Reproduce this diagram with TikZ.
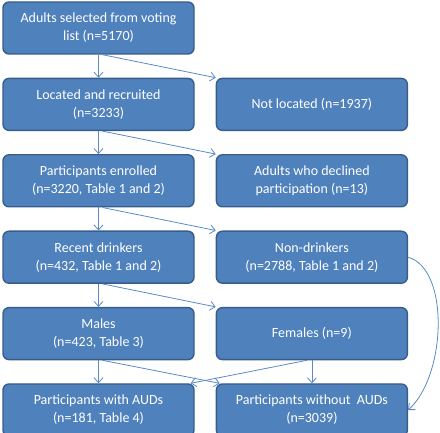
\documentclass[tikz,border=0pt]{standalone}
\usepackage{fontspec}
\setmainfont{Carlito}
\usepackage{xcolor}
\usepackage{tikz}
\usetikzlibrary{positioning,arrows.meta}
\definecolor{boxfill}{HTML}{4F81BD}
\definecolor{boxline}{HTML}{385D8A}
\definecolor{arrowblue}{HTML}{5B8AC6}
\newcommand{\boxfont}{\fontsize{14pt}{18pt}\selectfont}

\begin{document}
\begin{tikzpicture}[
        stagebox/.style={draw=boxline, fill=boxfill, line width=1.4pt, rounded corners=6pt,
            text=white, align=center, minimum width=191pt, minimum height=52pt,
            inner sep=2pt, font=\boxfont},
        flow/.style={draw=arrowblue, line width=0.8pt, -{Straight Barb[length=5pt,width=9pt]}},
        node distance=23pt and 21pt
    ]
                \useasboundingbox (0,0) rectangle (440pt,-433pt);
                \node (selected) [stagebox] at (98.5pt,-28pt) {Adults selected from voting\\list (n=5170)};
                \node (located) [stagebox, below=of selected] {Located and recruited\\(n=3233)};
                \node (notlocated) [stagebox, right=of located] {Not located (n=1937)};
                \node (enrolled) [stagebox, below=of located] {Participants enrolled\\(n=3220, Table 1 and 2)};
                \node (declined) [stagebox, right=of enrolled] {Adults who declined\\participation (n=13)};
                \node (drinkers) [stagebox, below=of enrolled] {Recent drinkers\\(n=432, Table 1 and 2)};
                \node (nondrinkers) [stagebox, right=of drinkers] {Non-drinkers\\(n=2788, Table 1 and 2)};
                \node (males) [stagebox, below=of drinkers] {Males\\(n=423, Table 3)};
                \node (females) [stagebox, right=of males] {Females (n=9)};
                \node (withaud) [stagebox, below=of males] {Participants with AUDs\\(n=181, Table 4)};
                \node (withoutaud) [stagebox, right=of withaud] {Participants without~ AUDs\\(n=3039)};
                \draw[flow] (selected.south) -- (located.north);
                \draw[flow] ([xshift=4pt]selected.south) -- (notlocated.north west);
                \draw[flow] (located.south) -- (enrolled.north);
                \draw[flow] ([xshift=4pt]located.south) -- (declined.north west);
                \draw[flow] (enrolled.south) -- (drinkers.north);
                \draw[flow] ([xshift=4pt]enrolled.south) -- (nondrinkers.north west);
                \draw[flow] (drinkers.south) -- (males.north);
                \draw[flow] ([xshift=4pt]drinkers.south) -- (females.north west);
                \draw[flow] (males.south) -- (withaud.north);
                \draw[flow] ([xshift=4pt]males.south) -- ([xshift=4pt]withoutaud.north west);
                \draw[flow] (females.south) -- (withoutaud.north);
                \draw[flow] ([xshift=-5pt]females.south) -- ([xshift=-4pt]withaud.north east);
                \draw[flow] (nondrinkers.east) .. controls +(42pt,-12pt) and +(38pt,34pt) .. (withoutaud.east);
            \end{tikzpicture}
\end{document}
